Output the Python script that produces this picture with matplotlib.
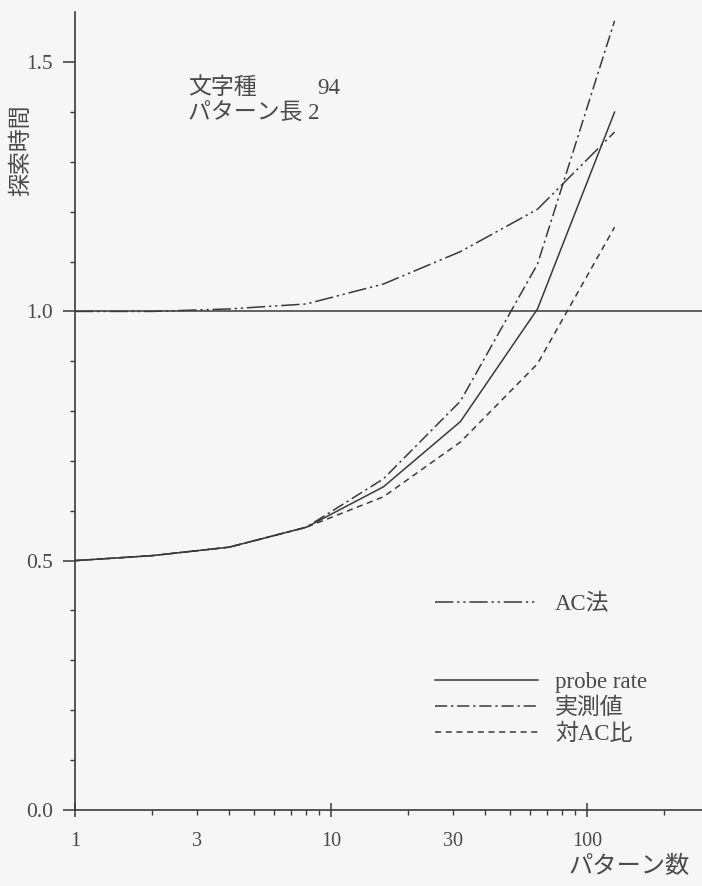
import matplotlib
matplotlib.use("Agg")
import matplotlib.pyplot as plt
from matplotlib.ticker import FixedLocator, FuncFormatter

plt.rcParams['font.family'] = ['Liberation Serif', 'Noto Sans CJK JP']

# data (pattern count on a log axis)
patterns = [1, 2, 4, 8, 16, 32, 64, 128]
ac_method = [1.0, 1.0, 1.005, 1.015, 1.055, 1.12, 1.205, 1.36]
probe_rate = [0.5, 0.51, 0.527, 0.567, 0.648, 0.779, 1.005, 1.40]
measured = [0.5, 0.51, 0.527, 0.567, 0.664, 0.82, 1.095, 1.583]
ratio_ac = [0.5, 0.51, 0.527, 0.567, 0.628, 0.738, 0.895, 1.169]

x_major = [1, 10, 100]
x_minor = [2, 3, 4, 5, 6, 7, 8, 9, 20, 30, 40, 50, 60, 70, 80, 90, 200]
x_minor_labels = {3: '3', 30: '30'}
y_major = [0.0, 0.5, 1.0, 1.5]
y_minor = [0.1, 0.2, 0.3, 0.4, 0.6, 0.7, 0.8, 0.9, 1.1, 1.2, 1.3, 1.4]

ink = '#3a3a3a'
txt = '#4a4a4a'
bg = '#f6f6f6'

fig = plt.figure(figsize=(7.02, 8.86), dpi=100, facecolor=bg)
ax = fig.add_axes([0.107, 0.086, 0.893, 0.90])
ax.set_facecolor(bg)

lw = 1.1
l_ac, = ax.plot(patterns, ac_method, color=ink, lw=lw, ls=(0, (12, 2.5, 1.5, 2.5, 1.5, 2.5)), label='AC法')
l_pr, = ax.plot(patterns, probe_rate, color=ink, lw=lw, ls='-', label='probe rate')
l_me, = ax.plot(patterns, measured, color=ink, lw=lw, ls=(0, (8, 2.5, 1.5, 2.5)), label='実測値')
l_ra, = ax.plot(patterns, ratio_ac, color=ink, lw=lw, ls=(0, (4, 3)), label='対AC比')
ax.axhline(1.0, color=ink, lw=lw, clip_on=False)

ax.set_xscale('log')
ax.set_xlim(1, 281)
ax.set_ylim(0, 1.6)

for s in ['top', 'right']:
    ax.spines[s].set_visible(False)
for s in ['left', 'bottom']:
    ax.spines[s].set_color(ink)
    ax.spines[s].set_linewidth(1.2)

ax.xaxis.set_major_locator(FixedLocator(x_major))
ax.xaxis.set_minor_locator(FixedLocator(x_minor))
ax.xaxis.set_major_formatter(FuncFormatter(lambda v, p: '%d' % round(v)))
ax.xaxis.set_minor_formatter(FuncFormatter(lambda v, p: x_minor_labels.get(int(round(v)), '')))
ax.yaxis.set_major_locator(FixedLocator(y_major))
ax.yaxis.set_minor_locator(FixedLocator(y_minor))
ax.yaxis.set_major_formatter(FuncFormatter(lambda v, p: '%.1f' % v))

ax.tick_params(axis='x', which='major', direction='inout', length=10, width=1.1,
               pad=11, labelsize=14.5, colors=ink, labelcolor=txt)
ax.tick_params(axis='x', which='minor', direction='out', length=3.5, width=1.0,
               pad=12.5, labelsize=14.5, colors=ink, labelcolor=txt)
ax.tick_params(axis='y', which='major', direction='out', length=8.5, width=1.1,
               pad=7.5, labelsize=15.5, colors=ink, labelcolor=txt)
ax.tick_params(axis='y', which='minor', direction='out', length=3.5, width=1.0, colors=ink)

ax.set_ylabel('探索時間', fontsize=16.5, color=txt)
ax.yaxis.set_label_coords(-0.068, 0.827)
ax.set_xlabel('パターン数', fontsize=17.5, color=txt, loc='right')
ax.xaxis.set_label_coords(0.981, -0.058)

ax.text(0.18, 0.905, '文字種', transform=ax.transAxes, fontsize=16.5, color=txt, va='center')
ax.text(0.423, 0.905, '94', transform=ax.transAxes, fontsize=16.5, color=txt, va='center', ha='right')
ax.text(0.18, 0.873, 'パターン長 2', transform=ax.transAxes, fontsize=16.5, color=txt, va='center')

leg1 = ax.legend(handles=[l_ac], loc='center left', bbox_to_anchor=(0.574, 0.258),
                 frameon=False, fontsize=16.5, handlelength=4.5, handletextpad=0.75,
                 borderpad=0, borderaxespad=0, labelcolor=txt)
ax.add_artist(leg1)
ax.legend(handles=[l_pr, l_me, l_ra], loc='center left', bbox_to_anchor=(0.574, 0.127),
          frameon=False, fontsize=16.5, handlelength=4.5, handletextpad=0.75,
          labelspacing=0.2, borderpad=0, borderaxespad=0, labelcolor=txt)

fig.savefig('out.png', dpi=100, facecolor=bg)
